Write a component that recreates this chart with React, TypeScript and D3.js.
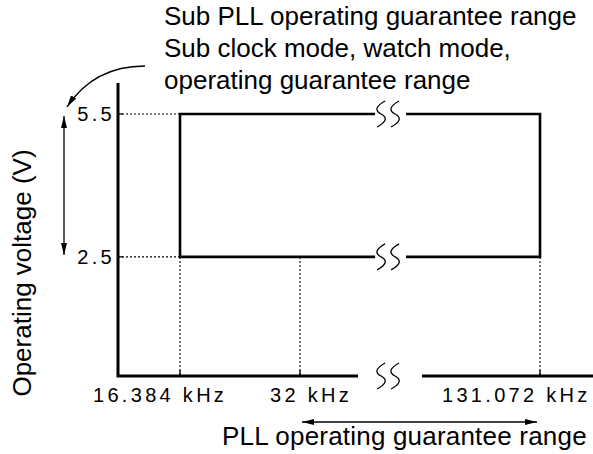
import React, { useEffect, useRef } from 'react';
import * as d3 from 'd3';

// frequency ticks (kHz) and their labels
const freqTicks = [16.384, 32, 131.072];
const freqLabels = ['16.384 kHz', '32 kHz', '131.072 kHz'];

// voltage ticks (V)
const voltTicks = [5.5, 2.5];
const voltLabels = ['5.5', '2.5'];

// Sub PLL / sub clock / watch mode guarantee range
const subRangeFreq = [16.384, 131.072];
const subRangeVolt = [2.5, 5.5];

// PLL guarantee range (frequency only)
const pllRangeFreq = [32, 131.072];

const noteLines = [
    'Sub PLL operating guarantee range',
    'Sub clock mode, watch mode,',
    'operating guarantee range',
];
const yTitle = 'Operating voltage (V)';
const xTitle = 'PLL operating guarantee range';

const W = 593;
const H = 454;

const App: React.FC = () => {
    const svgRef = useRef<SVGSVGElement>(null);

    useEffect(() => {
        if (!svgRef.current) return;
        const svg = d3.select(svgRef.current);
        svg.selectAll('*').remove();

        const font = '"Liberation Sans", Arial, Helvetica, sans-serif';
        const axisX = 118;
        const axisY = 376;

        // broken frequency axis: piecewise linear
        const x = d3
            .scaleLinear()
            .domain([0, 16.384, 32, 131.072])
            .range([axisX, 180, 300, 540]);
        const y = d3.scaleLinear().domain([0, 6.15]).range([axisY, 83]);

        const breakX = x(32) + 0.367 * (x(131.072) - x(32));

        const defs = svg.append('defs');
        defs.append('marker')
            .attr('id', 'arr')
            .attr('viewBox', '0 0 12 6')
            .attr('refX', 12)
            .attr('refY', 3)
            .attr('markerWidth', 12)
            .attr('markerHeight', 6)
            .attr('markerUnits', 'userSpaceOnUse')
            .attr('orient', 'auto-start-reverse')
            .append('path')
            .attr('d', 'M0,0 L12,3 L0,6 Z')
            .attr('fill', '#000');

        const squiggle = (cx: number, cy: number, h: number) => {
            const t = cy - h / 2;
            return `M${cx + 4},${t} Q${cx - 10},${t + h * 0.3} ${cx},${t + h * 0.5} T${cx - 4},${t + h}`;
        };
        const drawBreak = (cy: number) => {
            [breakX - 7, breakX + 7].forEach((cx) => {
                svg.append('path')
                    .attr('d', squiggle(cx, cy, 26))
                    .attr('fill', 'none')
                    .attr('stroke', '#000')
                    .attr('stroke-width', 1.3);
            });
        };

        // dotted guide lines
        const dot = (x1: number, y1: number, x2: number, y2: number) =>
            svg.append('line')
                .attr('x1', x1).attr('y1', y1)
                .attr('x2', x2).attr('y2', y2)
                .attr('stroke', '#000')
                .attr('stroke-width', 1.1)
                .attr('stroke-dasharray', '2,2');

        voltTicks.forEach((v) => dot(axisX, y(v), x(subRangeFreq[0]), y(v)));
        freqTicks.forEach((f) => dot(x(f), y(subRangeVolt[0]), x(f), axisY));

        // short solid ticks
        freqTicks.forEach((f) => {
            svg.append('line')
                .attr('x1', x(f)).attr('x2', x(f))
                .attr('y1', axisY).attr('y2', axisY - 6)
                .attr('stroke', '#000').attr('stroke-width', 1.3);
        });
        voltTicks.forEach((v) => {
            svg.append('line')
                .attr('x1', axisX).attr('x2', axisX + 5)
                .attr('y1', y(v)).attr('y2', y(v))
                .attr('stroke', '#000').attr('stroke-width', 1.3);
        });

        // guarantee range rectangle, broken top and bottom
        const gapL = breakX - 13;
        const gapR = breakX + 18;
        const [f0, f1] = subRangeFreq.map(x);
        const [v0, v1] = subRangeVolt.map(y);
        const rectPath = [
            `M${gapL},${v1} H${f0} V${v0} H${gapL}`,
            `M${gapR},${v1} H${f1} V${v0} H${gapR}`,
        ].join(' ');
        svg.append('path')
            .attr('d', rectPath)
            .attr('fill', 'none')
            .attr('stroke', '#000')
            .attr('stroke-width', 2.6);
        drawBreak(v1);
        drawBreak(v0);

        // axes
        svg.append('path')
            .attr('d', `M${axisX},${y(6.15)} V${axisY} H${breakX - 30} M${breakX + 34},${axisY} H${W}`)
            .attr('fill', 'none')
            .attr('stroke', '#000')
            .attr('stroke-width', 3);
        drawBreak(axisY);

        // tick labels
        const labelDx = [-87, -30, -98];
        freqTicks.forEach((f, i) => {
            svg.append('text')
                .attr('x', x(f) + labelDx[i])
                .attr('y', axisY + 26)
                .attr('font-family', font)
                .attr('font-size', 20)
                .attr('letter-spacing', 3.3)
                .text(freqLabels[i]);
        });
        voltTicks.forEach((v, i) => {
            svg.append('text')
                .attr('x', axisX - 3)
                .attr('y', y(v) + 7)
                .attr('text-anchor', 'end')
                .attr('font-family', font)
                .attr('font-size', 20)
                .attr('letter-spacing', 3.3)
                .text(voltLabels[i]);
        });

        // vertical double arrow (voltage range)
        svg.append('line')
            .attr('x1', 64).attr('x2', 64)
            .attr('y1', y(subRangeVolt[1]) + 2)
            .attr('y2', y(subRangeVolt[0]) - 2)
            .attr('stroke', '#000').attr('stroke-width', 1.3)
            .attr('marker-start', 'url(#arr)')
            .attr('marker-end', 'url(#arr)');

        // horizontal double arrow (PLL range)
        svg.append('line')
            .attr('x1', x(pllRangeFreq[0]) + 2)
            .attr('x2', x(pllRangeFreq[1]) - 3)
            .attr('y1', 422).attr('y2', 422)
            .attr('stroke', '#000').attr('stroke-width', 1.3)
            .attr('marker-start', 'url(#arr)')
            .attr('marker-end', 'url(#arr)');

        // curved pointer from note to the voltage arrow
        svg.append('path')
            .attr('d', 'M145,66 Q94,66 67,107')
            .attr('fill', 'none')
            .attr('stroke', '#000').attr('stroke-width', 1.3)
            .attr('marker-end', 'url(#arr)');

        // note text
        svg.append('text')
            .attr('font-family', font)
            .attr('font-size', 26)
            .selectAll('tspan')
            .data(noteLines)
            .join('tspan')
            .attr('x', 164)
            .attr('y', (_, i) => 25 + i * 32)
            .text((d) => d);

        // axis titles
        svg.append('text')
            .attr('transform', `translate(31, 273) rotate(-90)`)
            .attr('text-anchor', 'middle')
            .attr('font-family', font)
            .attr('font-size', 26)
            .text(yTitle);

        svg.append('text')
            .attr('x', 222)
            .attr('y', 445)
            .attr('font-family', font)
            .attr('font-size', 26)
            .attr('letter-spacing', 0.2)
            .text(xTitle);
    }, []);

    return (
        <svg
            ref={svgRef}
            width={W}
            height={H}
            style={{ position: 'absolute', left: 0, top: 0, display: 'block', background: '#fff' }}
        />
    );
};

export default App;
